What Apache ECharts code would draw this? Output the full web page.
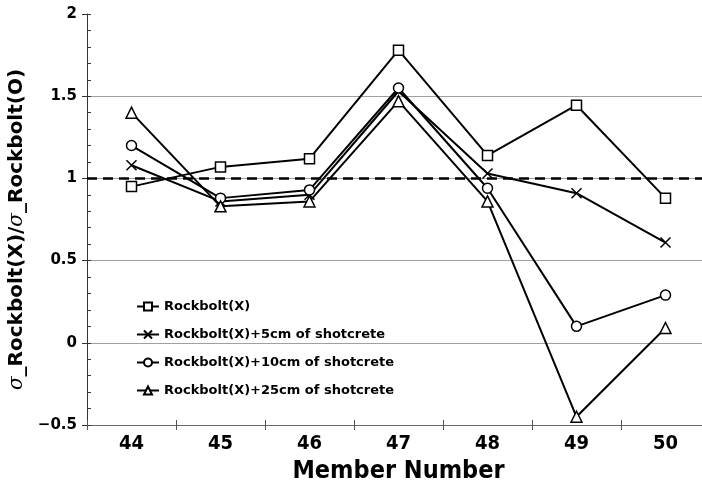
<!DOCTYPE html>
<html><head><meta charset="utf-8">
<script src="https://cdn.jsdelivr.net/npm/echarts@6/dist/echarts.min.js"></script>
<style>html,body{margin:0;padding:0;background:#fff}#c{width:702px;height:480px}</style>
</head><body><div id="c"></div>
<script>
const categories = ['44','45','46','47','48','49','50'];
const seriesNames = ['Rockbolt(X)','Rockbolt(X)+5cm of shotcrete','Rockbolt(X)+10cm of shotcrete','Rockbolt(X)+25cm of shotcrete'];
const rockbolt = [0.95, 1.07, 1.12, 1.78, 1.14, 1.445, 0.88];
const shot5 = [1.08, 0.86, 0.90, 1.53, 1.03, 0.91, 0.61];
const shot10 = [1.20, 0.88, 0.93, 1.55, 0.94, 0.10, 0.29];
const shot25 = [1.40, 0.83, 0.86, 1.47, 0.86, -0.45, 0.09];
const yTicks = {min: -0.5, max: 2, interval: 0.5};
const refLine = 1;

const symbols = ['rect', 'path://M0,0L10,10M0,10L10,0', 'circle', 'triangle'];
const sizes = [10, 10, 10, 11];
const dataSets = [rockbolt, shot5, shot10, shot25];
const labelFont = "'Liberation Sans Narrow','DejaVu Sans Condensed',Arial,sans-serif";

const series = dataSets.map((d, i) => ({
  name: seriesNames[i], type: 'line', data: d, xAxisIndex: 0, yAxisIndex: 0,
  symbol: symbols[i], symbolSize: sizes[i], showAllSymbol: true,
  lineStyle: {color: '#000', width: 2},
  itemStyle: {color: '#fff', borderColor: '#000', borderWidth: 1.5},
  emphasis: {disabled: true},
  z: 3 + i
}));
series[0].markLine = {
  silent: true, symbol: 'none', label: {show: false},
  lineStyle: {color: '#000', type: [10, 6], width: 2.5},
  data: [{yAxis: refLine}], z: 2
};

const chart = echarts.init(document.getElementById('c'), null, {renderer: 'canvas'});
chart.setOption({
  animation: false,
  backgroundColor: '#fff',
  grid: {left: 87, top: 14, bottom: 55, right: -8, containLabel: false, outerBoundsMode: 'none'},
  legend: {
    orient: 'vertical', left: 131, top: 295, itemGap: 15,
    itemWidth: 22, itemHeight: 10,
    textStyle: {fontFamily: "'DejaVu Sans',sans-serif", fontWeight: 'bold', fontSize: 13, color: '#000'},
    data: seriesNames
  },
  xAxis: [{
    type: 'category', data: categories, boundaryGap: true, position: 'bottom',
    axisLine: {onZero: false, lineStyle: {color: '#666', width: 1}},
    axisTick: {show: true, length: 5, lineStyle: {color: '#555'}},
    axisLabel: {fontFamily: labelFont, fontWeight: 'bold', fontSize: 20, color: '#000', margin: 9},
    name: 'Member Number', nameLocation: 'middle', nameGap: 30,
    nameTextStyle: {fontFamily: labelFont, fontWeight: 'bold', fontSize: 25, color: '#000'}
  }, {
    type: 'category', data: categories, boundaryGap: true, position: 'bottom',
    axisLine: {show: false, onZero: false},
    axisTick: {show: true, inside: true, length: 5, lineStyle: {color: '#555'}},
    axisLabel: {show: false}
  }],
  yAxis: [{
    type: 'value', min: yTicks.min, max: yTicks.max, interval: yTicks.interval, position: 'left',
    axisLine: {show: true, onZero: false, lineStyle: {color: '#333', width: 1}},
    axisTick: {show: true, inside: false, length: 5, lineStyle: {color: '#333'}},
    splitLine: {show: true, showMaxLine: false, lineStyle: {color: '#a0a0a0', width: 1}},
    axisLabel: {fontFamily: "'DejaVu Sans',sans-serif", fontWeight: 'bold', fontSize: 15, color: '#000', margin: 10,
      formatter: v => String(v).replace('-', '\u2212')},
    name: '{s|σ}_Rockbolt(X)/{s|σ}_Rockbolt(O)', nameLocation: 'middle', nameGap: 56,
    nameTextStyle: {
      fontFamily: "'DejaVu Sans',sans-serif", fontWeight: 'bold', fontSize: 20, color: '#000',
      padding: [0, 20, 0, 0],
      rich: {s: {fontFamily: "'DejaVu Serif',serif", fontStyle: 'italic', fontWeight: 'normal', fontSize: 20, color: '#000'}}
    }
  }, {
    type: 'value', min: yTicks.min, max: yTicks.max, interval: yTicks.interval, position: 'left',
    axisLine: {show: false, onZero: false},
    axisTick: {show: true, inside: true, length: 4, lineStyle: {color: '#333'}},
    minorTick: {show: true, splitNumber: 5, length: 4, lineStyle: {color: '#333'}},
    axisLabel: {show: false}, splitLine: {show: false}
  }],
  series: series
});
</script></body></html>
